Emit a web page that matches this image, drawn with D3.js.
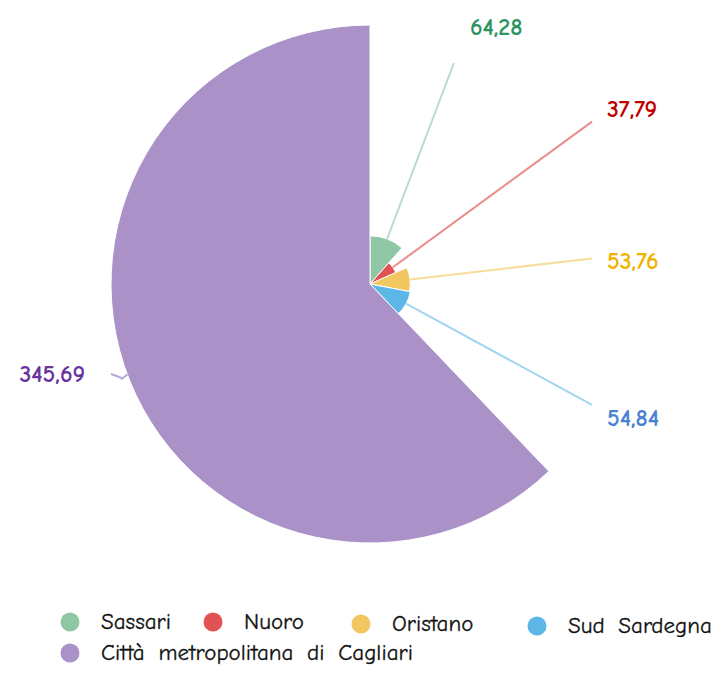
<!DOCTYPE html>
<html>
<head>
<meta charset="utf-8">
<script src="https://cdn.jsdelivr.net/npm/d3@7/dist/d3.min.js"></script>
<style>
  html, body { margin: 0; padding: 0; background: #fff; }
  svg { display: block; }
  text { font-family: "Comic Sans MS", "Comic Neue", Lato, "DejaVu Sans", sans-serif; }
</style>
</head>
<body>
<svg id="chart" width="714" height="691"></svg>
<script>
const categories = ["Sassari", "Nuoro", "Oristano", "Sud Sardegna", "Città metropolitana di Cagliari"];
const values = [64.28, 37.79, 53.76, 54.84, 345.69];
const valueLabels = ["64,28", "37,79", "53,76", "54,84", "345,69"];
const sliceColors = ["#8fc7a5", "#e05352", "#f2c75f", "#5cb6e6", "#aa92c9"];
const labelColors = ["#2e9463", "#c00000", "#f0b400", "#4a82d0", "#6a33a0"];
const lineColors = ["#b9ddc8", "#e98d8d", "#f7dc9c", "#a2d5f2", "#b9a8d8"];

const W = 714, H = 691;
const cx = 370, cy = 284, maxR = 259;
const svg = d3.select("#chart");

const data = categories.map((c, i) => ({ name: c, value: values[i], i }));
const pie = d3.pie().sort(null).value(d => d.value).startAngle(0).endAngle(2 * Math.PI);
const arcsData = pie(data);
const rScale = d3.scaleLinear().domain([0, d3.max(values)]).range([0, maxR]);
const arc = d3.arc().innerRadius(0).outerRadius(d => rScale(d.data.value));

const g = svg.append("g").attr("transform", `translate(${cx},${cy})`);
g.selectAll("path.slice").data(arcsData).enter().append("path")
  .attr("class", "slice")
  .attr("d", arc)
  .attr("fill", d => sliceColors[d.data.i])
  .attr("stroke", "#fff")
  .attr("stroke-width", 1);

// label lines
const rightX = 592 - cx, topY = 63 - cy;
const labelG = svg.append("g");
const labelFont = 24;
arcsData.forEach(d => {
  const a = (d.startAngle + d.endAngle) / 2;
  const dx = Math.sin(a), dy = -Math.cos(a);
  const r0 = rScale(d.data.value);
  const sx = cx + dx * r0, sy = cy + dy * r0;
  const i = d.data.i;
  if (dx > 0) {
    let t = rightX / dx;
    if (dy < 0 && dy * t < topY) t = topY / dy;
    const ex = cx + dx * t, ey = cy + dy * t;
    labelG.append("line")
      .attr("x1", sx).attr("y1", sy).attr("x2", ex).attr("y2", ey)
      .attr("stroke", lineColors[i]).attr("stroke-width", 2);
    let tx, ty;
    if (Math.abs(ex - (cx + rightX)) < 0.5) { tx = ex + 15; ty = ey + [0, -13, 2, 12][i]; }
    else { tx = ex + 16; ty = ey - 37; }
    labelG.append("text")
      .attr("x", tx).attr("y", ty)
      .attr("dy", "0.36em")
      .attr("fill", labelColors[i])
      .attr("font-size", labelFont)
      .attr("font-weight", "bold")
      .text(valueLabels[i]);
  } else {
    const mx = cx + dx * (r0 + 4), my = cy + dy * (r0 + 4) - 3;
    const ex = 111, ey = 374;
    labelG.append("path")
      .attr("d", `M${sx - 2},${sy - 6} Q${mx - 6},${my + 2} ${ex + 11},${ey + 4} L${ex},${ey}`)
      .attr("fill", "none")
      .attr("stroke", lineColors[i]).attr("stroke-width", 2);
    labelG.append("text")
      .attr("x", ex - 26).attr("y", ey - 1)
      .attr("dy", "0.36em")
      .attr("text-anchor", "end")
      .attr("fill", labelColors[i])
      .attr("font-size", labelFont)
      .attr("font-weight", "bold")
      .text(valueLabels[i]);
  }
});

// legend
const legendPos = [[70, 622], [213, 622], [361, 624], [537, 626], [70, 653]];
const legend = svg.append("g");
data.forEach((d, i) => {
  const [x, y] = legendPos[i];
  legend.append("circle").attr("cx", x).attr("cy", y).attr("r", 9.5).attr("fill", sliceColors[i]);
  legend.append("text")
    .attr("x", x + 31).attr("y", y - 1)
    .attr("dy", "0.35em")
    .attr("font-size", 23)
    .attr("word-spacing", 6)
    .attr("fill", "#111")
    .attr("stroke", "#111")
    .attr("stroke-width", 0.3)
    .text(d.name);
});
</script>
</body>
</html>
